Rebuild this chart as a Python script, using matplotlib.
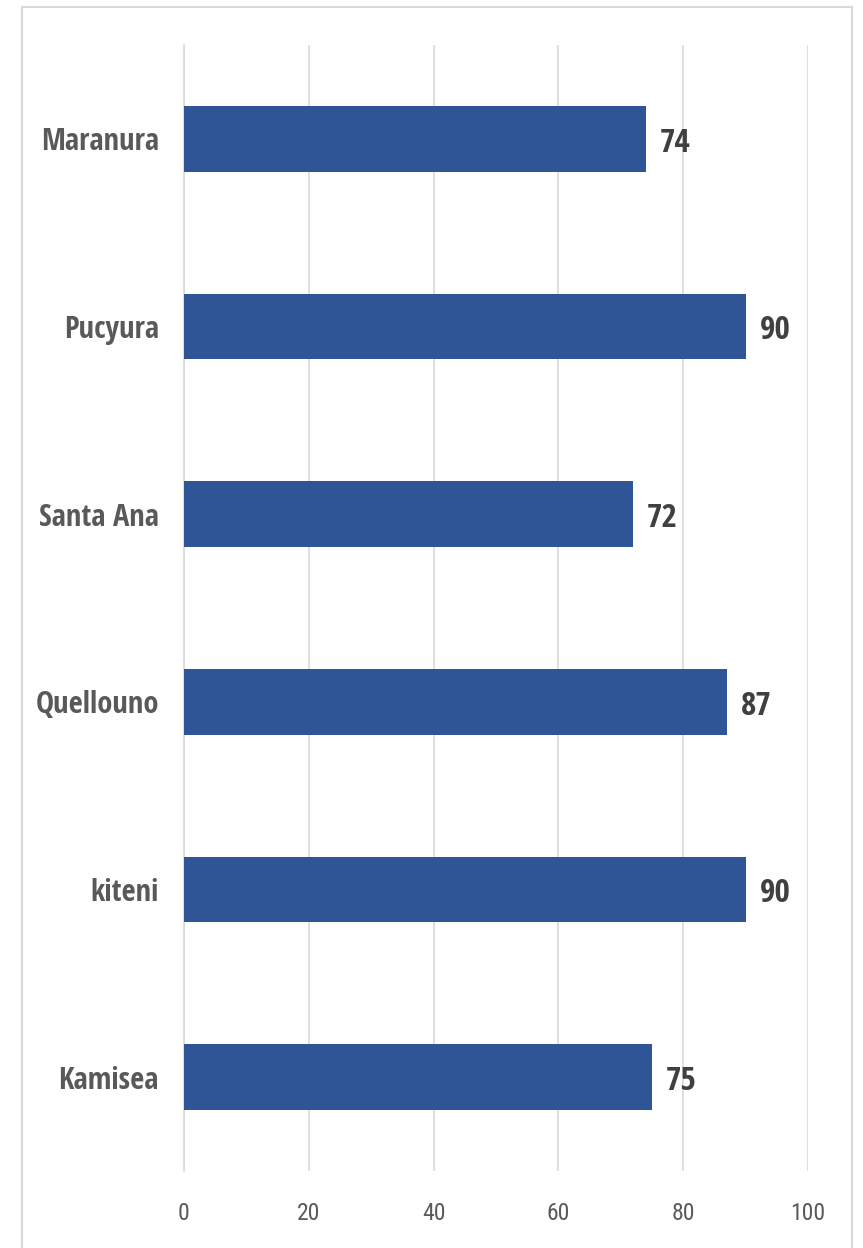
import matplotlib.pyplot as plt
from matplotlib.patches import Rectangle

districts = ["Maranura", "Pucyura", "Santa Ana", "Quellouno", "kiteni", "Kamisea"]
values = [74, 90, 72, 87, 90, 75]
xticks = [0, 20, 40, 60, 80, 100]

bar_color = "#2F5597"
grid_color = "#D9D9D9"

plt.rcParams['font.family'] = ['Roboto Condensed', 'DejaVu Sans']

fig = plt.figure(figsize=(8.63, 12.48), dpi=100)
ax = fig.add_axes([0.2132, 0.0617, 0.7231, 0.9022])

# chart border like the office export
fig.patches.append(Rectangle((22 / 863, -0.01), 830 / 863, 1 - 7 / 1248 + 0.01,
                             transform=fig.transFigure, fill=False,
                             edgecolor=grid_color, linewidth=1.5))

pos = list(range(len(districts)))
ax.barh(pos, values, height=0.35, color=bar_color, zorder=3)

for p, v in zip(pos, values):
    ax.annotate(str(v), (v, p), xytext=(10, -3), textcoords="offset points",
                va="center", ha="left", fontsize=24, fontweight="bold",
                family="Open Sans Condensed", color="#404040")

ax.set_xlim(0, 100)
ax.set_ylim(len(districts) - 0.5, -0.5)
ax.set_xticks(xticks)
ax.set_xticklabels([str(t) for t in xticks])
ax.set_yticks(pos)
ax.set_yticklabels(districts, fontsize=22, fontweight="bold", color="#595959",
                   family="Open Sans Condensed")
ax.tick_params(axis="x", length=0, pad=22, labelsize=17, labelcolor="#595959")
ax.tick_params(axis="y", length=0, pad=18)
ax.grid(axis="x", color=grid_color, linewidth=1.2, zorder=0)
for s in ax.spines.values():
    s.set_visible(False)
ax.spines["left"].set_visible(True)
ax.spines["left"].set_color(grid_color)
ax.spines["left"].set_linewidth(1.2)

fig.savefig("out.png", dpi=100)
